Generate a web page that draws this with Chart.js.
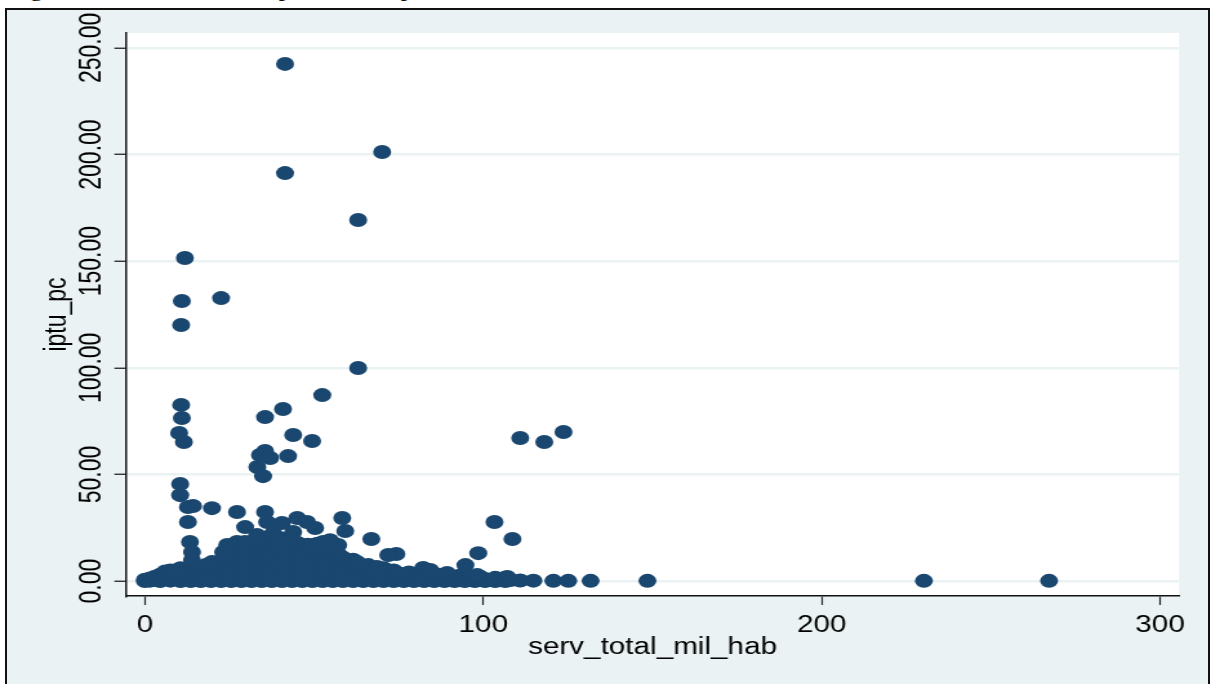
<!DOCTYPE html>
<html>
<head>
<meta charset="utf-8">
<script src="https://cdn.jsdelivr.net/npm/chart.js@4.4.1/dist/chart.umd.min.js"></script>
<style>
  html, body { margin: 0; padding: 0; background: #fff; overflow: hidden; }
  #page { position: relative; width: 1211px; height: 684px; overflow: hidden; }
  #caption {
    position: absolute; left: 7px; top: -23px;
    font: 21px "Liberation Serif", "Times New Roman", serif;
    line-height: 24px; color: #000; white-space: nowrap;
    transform: scaleX(1.29); transform-origin: 0 0;
  }
  #frame {
    position: absolute; left: 5px; top: 8px; width: 1201px; height: 700px;
    border: 2px solid #111; border-bottom: none; background: #eaf2f3;
  }
  #chart { position: absolute; left: 0; top: 0; }
</style>
</head>
<body>
<div id="page">
  <div id="caption">Figura 2 – Gráfico de dispersão dos pontos</div>
  <div id="frame"></div>
  <canvas id="chart" width="939" height="684" style="width:1211px;height:684px"></canvas>
</div>
<script>
// Datos: [serv_total_mil_hab, iptu_pc]
const outlierPoints = [
  [41.4, 242.5], [70.1, 201.2], [41.4, 191.3], [63.0, 169.3], [11.8, 151.5],
  [22.5, 132.7], [10.9, 131.3], [10.7, 120.1], [63.0, 99.9], [52.4, 87.2],
  [10.7, 82.6], [40.8, 80.7], [10.9, 76.5], [35.5, 76.9], [10.1, 69.4],
  [110.9, 67.1], [118.0, 65.2], [123.7, 69.9], [11.5, 65.2], [43.8, 68.5],
  [49.4, 65.7], [35.5, 61.0], [34.0, 59.1], [37.0, 57.7], [42.3, 58.6],
  [33.2, 53.5], [34.9, 49.2]
];

const middlePoints = [
  [10.4, 45.5], [10.4, 40.3], [12.7, 34.7], [14.2, 35.2], [19.8, 34.2],
  [27.2, 32.4], [35.5, 32.4], [12.7, 27.7], [29.6, 25.3], [36.1, 27.7],
  [40.5, 27.2], [45.0, 29.6], [47.9, 27.7], [50.3, 24.9], [58.3, 29.6],
  [59.2, 23.5], [33.1, 21.6], [37.9, 22.5], [43.8, 23.0], [13.3, 18.3],
  [13.9, 13.6], [13.9, 9.9], [39.9, 17.8], [49.4, 16.9], [52.7, 18.3],
  [57.1, 16.9], [54.7, 19.2], [66.9, 19.7], [74.3, 12.7], [98.5, 13.1],
  [103.3, 27.7], [108.6, 19.7], [94.7, 7.5], [82.2, 6.1], [84.3, 5.2],
  [89.3, 3.8], [71.9, 12.2], [24.3, 16.9], [27.2, 18.3], [29.6, 18.3],
  [23.1, 13.6], [19.8, 8.9], [62.7, 8.9], [68.6, 6.6]
];

const clusterPoints = [
  [0, 0], [0, 0.6], [1.5, 0.2], [1.5, 1.2], [3, 0.5], [3, 2], [4.5, 0], [4.5, 3],
  [6, 1], [6, 4.5], [7.5, 0.2], [7.5, 2.5], [7.5, 5], [9, 1], [9, 4], [10.5, 0],
  [10.5, 2], [10.5, 6], [12, 1], [12, 3.5], [13.5, 0], [13.5, 2], [15, 0.5], [15, 3],
  [15, 5.5], [16.5, 0], [16.5, 2.5], [16.5, 6], [18, 1], [18, 4], [18, 7.5], [19.5, 0],
  [19.5, 3], [19.5, 6], [21, 1], [21, 4.5], [21, 8.5], [22.5, 0], [22.5, 3], [22.5, 6],
  [22.5, 9.5], [24, 1], [24, 4], [24, 8], [24, 12], [25.5, 0], [25.5, 3], [25.5, 6.5],
  [25.5, 10], [25.5, 14], [27, 1.5], [27, 5], [27, 9], [27, 13], [27, 16], [28.5, 0],
  [28.5, 3.5], [28.5, 7], [28.5, 11], [28.5, 15], [30, 1], [30, 4.5], [30, 8.5], [30, 12.5],
  [30, 16.5], [31.5, 0], [31.5, 3], [31.5, 6.5], [31.5, 10.5], [31.5, 14], [31.5, 17.5],
  [33, 1.5], [33, 5], [33, 9], [33, 13], [33, 17], [34.5, 0], [34.5, 3.5], [34.5, 7.5],
  [34.5, 11.5], [34.5, 15.5], [34.5, 19], [36, 1], [36, 5], [36, 9], [36, 13], [36, 17],
  [36, 20], [37.5, 0], [37.5, 3], [37.5, 7], [37.5, 11], [37.5, 15], [37.5, 18.5],
  [39, 1.5], [39, 5.5], [39, 9.5], [39, 14], [39, 18], [40.5, 0], [40.5, 3.5], [40.5, 8],
  [40.5, 12], [40.5, 16], [40.5, 20], [42, 1], [42, 5], [42, 9.5], [42, 13.5], [42, 17.5],
  [43.5, 0], [43.5, 3], [43.5, 7], [43.5, 11], [43.5, 15], [43.5, 19], [45, 1.5], [45, 6],
  [45, 10], [45, 14], [45, 18], [46.5, 0], [46.5, 3.5], [46.5, 8], [46.5, 12], [46.5, 16],
  [48, 1], [48, 5], [48, 9], [48, 13], [48, 17], [49.5, 0], [49.5, 3], [49.5, 7.5],
  [49.5, 11.5], [49.5, 15], [51, 1.5], [51, 5.5], [51, 9.5], [51, 13.5], [51, 17.5],
  [52.5, 0], [52.5, 3.5], [52.5, 8], [52.5, 12], [54, 1], [54, 5], [54, 9], [54, 13],
  [54, 16], [55.5, 0], [55.5, 3], [55.5, 7], [55.5, 11], [57, 1.5], [57, 5.5], [57, 9.5],
  [57, 13], [58.5, 0], [58.5, 3.5], [58.5, 7.5], [58.5, 11], [60, 1], [60, 5], [60, 9],
  [61.5, 0], [61.5, 3], [61.5, 7], [61.5, 10], [63, 1.5], [63, 5], [63, 8], [64.5, 0],
  [64.5, 3.5], [64.5, 6.5], [66, 1], [66, 4.5], [66, 7.5], [67.5, 0], [67.5, 3], [67.5, 6],
  [69, 1.5], [69, 4.5], [70.5, 0], [70.5, 3], [70.5, 6], [72, 1], [72, 4], [73.5, 0],
  [73.5, 2.5], [73.5, 5], [75, 1], [75, 3.5], [76.5, 0], [76.5, 2.5], [78, 1], [78, 4],
  [79.5, 0], [79.5, 2], [81, 1], [81, 3.5], [82.5, 0], [82.5, 2.5], [84, 1], [84, 4],
  [85.5, 0], [85.5, 2], [87, 1], [87, 3], [88.5, 0], [88.5, 1.5], [90, 0.5], [90, 2.5],
  [91.5, 0], [91.5, 1.5], [93, 0.5], [93, 2.5], [94.5, 0], [94.5, 1.5], [96, 0.5], [96, 2],
  [97.5, 0], [97.5, 1], [99, 0.5], [99, 2], [100.5, 0], [100.5, 1], [102, 0.5], [103.5, 0],
  [103.5, 1.5], [105, 0.5], [106.5, 0], [106.5, 1.5], [108, 0.5]
];

const zeroRowPoints = [
  [98.2, 2.8], [107.1, 1.9], [110.9, 0.3], [114.8, 0.2], [120.7, 0.1], [125.1, 0.1],
  [131.7, 0.1], [148.5, 0.1], [230.2, 0.1], [267.2, 0.1]
];

const xTicks = [0, 100, 200, 300];
const yTicks = [0, 50, 100, 150, 200, 250];
const yTickLabels = ['0.00', '50.00', '100.00', '150.00', '200.00', '250.00'];
const xTitle = 'serv_total_mil_hab';
const yTitle = 'iptu_pc';

// el original esta estirado en horizontal
const STRETCH = 1211 / 939;
const LABEL_FONT = '23px "Liberation Sans", Arial, sans-serif';

const allPoints = [].concat(clusterPoints, zeroRowPoints, middlePoints, outlierPoints)
  .map(([x, y]) => ({ x, y }));

const plotBackground = {
  id: 'plotBackground',
  beforeDraw(chart) {
    const { ctx, chartArea } = chart;
    ctx.save();
    ctx.fillStyle = '#ffffff';
    ctx.fillRect(chartArea.left, chartArea.top, chartArea.right - chartArea.left, chartArea.bottom - chartArea.top);
    ctx.restore();
  }
};

const axisLabels = {
  id: 'axisLabels',
  afterDraw(chart) {
    const { ctx, chartArea, scales } = chart;
    ctx.save();
    ctx.fillStyle = '#000';
    ctx.font = LABEL_FONT;
    ctx.textBaseline = 'alphabetic';
    ctx.textAlign = 'center';

    yTicks.forEach((v, i) => {
      const py = scales.y.getPixelForValue(v);
      ctx.save();
      ctx.translate(chartArea.left - 19.5, py);
      ctx.rotate(-Math.PI / 2);
      ctx.fillText(yTickLabels[i], 0, 0);
      ctx.restore();
    });

    xTicks.forEach((v) => {
      ctx.fillText(String(v), scales.x.getPixelForValue(v), chartArea.bottom + 36);
    });

    ctx.fillText(xTitle, (chartArea.left + chartArea.right) / 2, chartArea.bottom + 58);

    ctx.translate(chartArea.left - 47, (chartArea.top + chartArea.bottom) / 2);
    ctx.rotate(-Math.PI / 2);
    ctx.fillText(yTitle, 0, 0);
    ctx.restore();
  }
};

function initChart() {
  const canvas = document.getElementById('chart');
  new Chart(canvas, {
    type: 'scatter',
    data: {
      datasets: [{
        data: allPoints,
        backgroundColor: '#1a476f',
        borderWidth: 0,
        pointRadius: 7,
        pointHoverRadius: 7
      }]
    },
    options: {
      responsive: false,
      devicePixelRatio: 1,
      animation: false,
      events: [],
      layout: {
        padding: { top: 33, left: 0, bottom: 0, right: 939 - 1179 / STRETCH }
      },
      plugins: {
        legend: { display: false },
        tooltip: { enabled: false }
      },
      scales: {
        x: {
          type: 'linear',
          min: -5.6,
          max: 305.6,
          afterFit: (scale) => { scale.height = 88; },
          afterBuildTicks: (scale) => { scale.ticks = xTicks.map((v) => ({ value: v })); },
          ticks: { display: false },
          grid: {
            drawOnChartArea: false,
            drawTicks: true,
            tickLength: 9,
            tickColor: '#222',
            tickWidth: 1.2
          },
          border: { display: true, color: '#111', width: 1.6 }
        },
        y: {
          type: 'linear',
          min: -7,
          max: 257,
          afterFit: (scale) => { scale.width = 126 / STRETCH; },
          afterBuildTicks: (scale) => { scale.ticks = yTicks.map((v) => ({ value: v })); },
          ticks: { display: false },
          grid: {
            color: '#eaf2f3',
            lineWidth: 2.5,
            drawTicks: true,
            tickLength: 9,
            tickColor: '#222',
            tickWidth: 1.3
          },
          border: { display: true, color: '#111', width: 1.5 }
        }
      }
    },
    plugins: [plotBackground, axisLabels]
  });
}

document.addEventListener('DOMContentLoaded', initChart);
</script>
</body>
</html>
